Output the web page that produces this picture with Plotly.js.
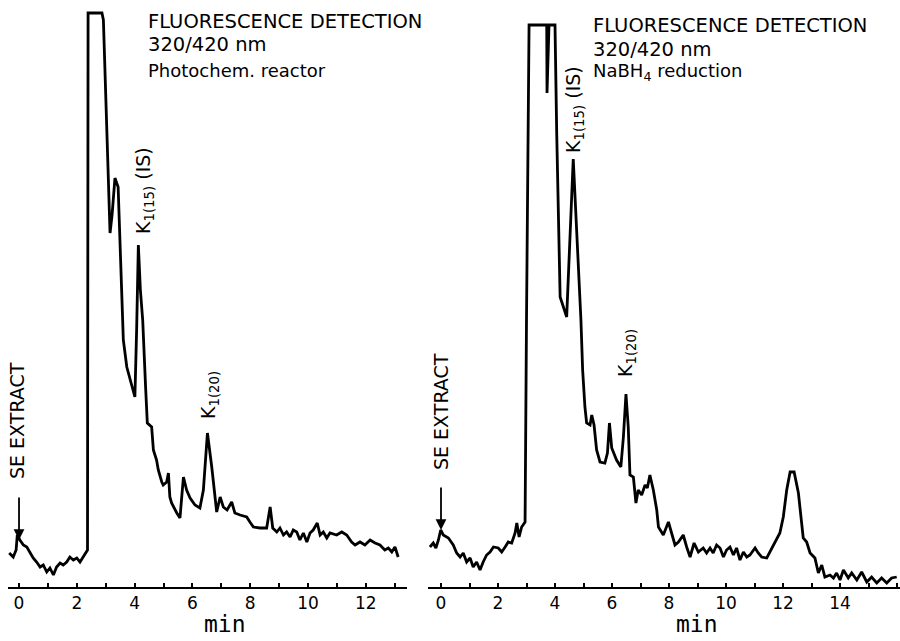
<!DOCTYPE html>
<html>
<head>
<meta charset="utf-8">
<script src="https://cdn.plot.ly/plotly-3.0.1.min.js"></script>
<style>html,body{margin:0;padding:0;background:#fff;}#chart{width:900px;height:641px;}</style>
</head>
<body>
<div id="chart"></div>
<script>
// ---- Data (retention time in min, detector response in arbitrary units) ----
const leftTime = [-0.34,-0.20,-0.10,-0.06,0.03,0.15,0.27,0.38,0.49,0.61,0.73,0.84,0.96,1.07,1.19,1.30,1.42,1.53,1.65,1.76,1.88,2.00,2.11,2.22,2.32,2.37,
  2.39,2.87,2.92,3.03,3.15,3.22,3.32,3.43,3.55,3.61,3.73,3.90,4.01,4.07,4.13,4.20,4.28,4.38,4.42,4.44,4.59,4.65,4.76,4.82,4.94,4.99,5.11,5.17,5.22,5.28,5.46,5.57,5.69,5.80,5.92,6.09,6.26,6.38,6.52,6.67,6.84,6.96,7.07,7.20,7.36,7.47,7.65,7.88,7.99,8.11,8.34,8.57,8.69,8.78,8.92,9.03,9.15,9.26,9.38,9.49,9.61,9.72,9.84,9.96,10.07,10.18,10.32,10.42,10.53,10.65,10.76,10.99,11.17,11.34,11.51,11.63,11.80,11.97,12.15,12.32,12.49,12.66,12.78,12.90,13.01,13.12];
const leftSignal = [34,30,37,52,47,42,40,35,29,25,20,22,15,19,12,20,24,22,25,30,27,29,25,30,34,37,
  574,574,567,454,354,372,409,400,287,247,220,200,190,257,342,297,267,200,164,164,160,137,127,117,105,102,105,114,90,84,74,69,110,97,89,82,79,97,154,120,75,90,80,77,85,74,72,70,65,60,59,59,80,59,55,59,52,55,50,57,55,47,54,45,54,57,64,52,55,49,54,52,55,52,45,42,45,42,47,44,42,37,39,35,40,30];

const rightTime = [-0.39,-0.27,-0.18,-0.09,-0.01,0.08,0.26,0.43,0.55,0.67,0.78,0.90,1.02,1.13,1.25,1.37,1.48,1.60,1.72,1.84,2.01,2.13,2.25,2.36,2.48,2.60,2.66,2.74,2.83,2.95,
  3.00,3.09,3.71,3.72,3.79,4.00,4.06,4.18,4.41,4.64,4.91,4.97,5.05,5.11,5.23,5.29,5.37,5.46,5.58,5.75,5.84,5.91,5.99,6.16,6.31,6.40,6.49,6.57,6.63,6.75,6.84,6.92,7.04,7.16,7.24,7.33,7.45,7.57,7.63,7.80,7.98,8.09,8.21,8.33,8.50,8.62,8.74,8.88,9.03,9.20,9.32,9.44,9.55,9.67,9.79,9.91,10.02,10.14,10.26,10.37,10.49,10.61,10.73,10.84,11.02,11.13,11.25,11.43,11.54,11.72,11.89,12.01,12.13,12.25,12.39,12.54,12.71,12.83,12.95,13.12,13.24,13.36,13.47,13.65,13.77,13.88,14.00,14.12,14.29,14.41,14.59,14.76,14.94,15.11,15.29,15.46,15.64,15.81,15.99];
const rightSignal = [40,44,39,47,57,52,49,42,34,30,34,25,29,20,25,17,25,32,35,40,39,35,40,45,44,54,64,50,60,65,
  267,562,562,494,562,562,454,290,270,428,267,217,180,164,162,172,162,137,125,124,134,164,139,127,120,150,193,160,112,110,84,97,92,102,99,112,97,77,60,52,65,54,42,45,52,40,30,44,35,39,34,39,34,42,39,30,37,40,32,39,27,35,30,32,39,34,30,29,35,45,54,70,97,115,115,94,49,45,34,29,14,22,10,12,9,14,7,17,9,14,7,15,5,10,4,9,4,9,10];

const leftTickVals = [0,2,4,6,8,10,12];
const leftTickText = ["0","2","4","6","8","10","12"];
const rightTickVals = [0,2,4,6,8,10,12,14];
const rightTickText = ["0","2","4","6","8","10","12","14"];

// ---- Helpers for placing text in pixel terms ----
const W = 900, PLOT_H = 587;
const px = v => v / W;              // paper x from pixel
const py = v => 1 - v / PLOT_H;     // paper y from pixel (plot area is 0..587)

const FONT = 'DejaVu Sans';
const lineStyle = {color: '#000', width: 2.8};

const traces = [
  {x: leftTime, y: leftSignal, xaxis: 'x', yaxis: 'y', type: 'scatter', mode: 'lines', line: lineStyle, hoverinfo: 'skip'},
  {x: rightTime, y: rightSignal, xaxis: 'x2', yaxis: 'y2', type: 'scatter', mode: 'lines', line: lineStyle, hoverinfo: 'skip'}
];

const axisCommon = {
  showline: true, linecolor: '#000', linewidth: 2,
  ticks: 'inside', ticklen: 4, tickwidth: 2, tickcolor: '#000',
  minor: {tickmode: 'linear', tick0: 0, dtick: 1, ticks: 'inside', ticklen: 4, tickwidth: 2, tickcolor: '#000', showgrid: false},
  tickfont: {family: FONT, size: 17, color: '#000'},
  showgrid: false, zeroline: false, fixedrange: true
};

function txt(text, x, y, size, opts) {
  return Object.assign({
    text: text, xref: 'paper', yref: 'paper', x: px(x), y: py(y),
    showarrow: false, font: {family: FONT, size: size, color: '#000'},
    xanchor: 'left', yanchor: 'middle'
  }, opts || {});
}

const annotations = [
  txt('FLUORESCENCE DETECTION', 146, 21, 19.5),
  txt('320/420 nm', 146, 45, 19.5),
  txt('Photochem. reactor', 146, 71, 18),
  txt('FLUORESCENCE DETECTION', 591, 25, 19.5),
  txt('320/420 nm', 591, 50, 19.5),
  txt('NaBH<sub>4</sub> reduction', 591, 72, 18),
  txt('K<sub>1(15)</sub> (IS)', 145, 191, 19, {xanchor: 'center', textangle: -90}),
  txt('K<sub>1(20)</sub>', 209, 395, 19, {xanchor: 'center', textangle: -90}),
  txt('SE EXTRACT', 17, 421, 19, {xanchor: 'center', textangle: -90}),
  txt('K<sub>1(15)</sub> (IS)', 574, 110, 19, {xanchor: 'center', textangle: -90}),
  txt('K<sub>1(20)</sub>', 626, 353, 19, {xanchor: 'center', textangle: -90}),
  txt('SE EXTRACT', 441, 412, 19, {xanchor: 'center', textangle: -90}),
  txt('min', 225, 624, 23, {xanchor: 'center', font: {family: 'DejaVu Sans Mono', size: 23, color: '#000'}}),
  txt('min', 697, 624, 23, {xanchor: 'center', font: {family: 'DejaVu Sans Mono', size: 23, color: '#000'}}),
  // injection arrows
  {text: '', xref: 'x', yref: 'y', x: 0, y: leftSignal[4], showarrow: true, ax: 0, ay: -44,
   arrowhead: 2, arrowsize: 1.2, arrowwidth: 1.8, arrowcolor: '#000', standoff: 0},
  {text: '', xref: 'x2', yref: 'y2', x: 0, y: rightSignal[4], showarrow: true, ax: 0, ay: -44,
   arrowhead: 2, arrowsize: 1.2, arrowwidth: 1.8, arrowcolor: '#000', standoff: 0}
];

const layout = {
  width: 900, height: 641,
  margin: {l: 0, r: 0, t: 0, b: 54, pad: 0},
  paper_bgcolor: '#fff', plot_bgcolor: 'rgba(0,0,0,0)',
  showlegend: false,
  xaxis: Object.assign({}, axisCommon, {domain: [8/900, 407/900], range: [-0.381, 13.426], anchor: 'y',
    tickmode: 'array', tickvals: leftTickVals, ticktext: leftTickText}),
  yaxis: {domain: [0, 1], range: [0, 587], visible: false, fixedrange: true, anchor: 'x'},
  xaxis2: Object.assign({}, axisCommon, {domain: [428/900, 1], range: [-0.456, 16.105], anchor: 'y2',
    tickmode: 'array', tickvals: rightTickVals, ticktext: rightTickText}),
  yaxis2: {domain: [0, 1], range: [0, 587], visible: false, fixedrange: true, anchor: 'x2'},
  annotations: annotations
};

Plotly.newPlot('chart', traces, layout, {staticPlot: true, displayModeBar: false});
</script>
</body>
</html>
